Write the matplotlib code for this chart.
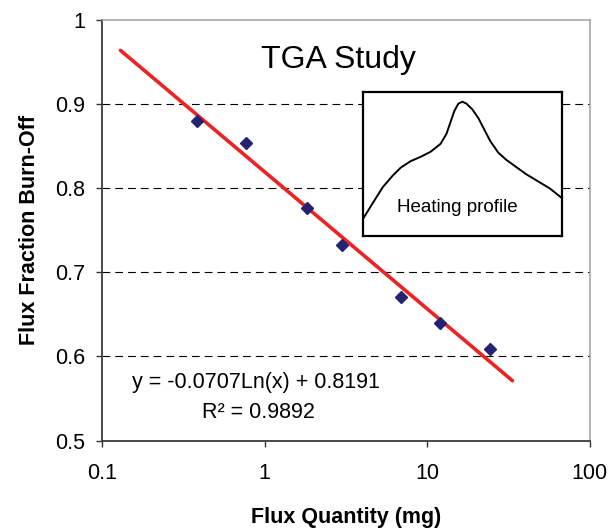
import matplotlib
matplotlib.use('Agg')
import matplotlib.pyplot as plt
import numpy as np

plt.rcParams['font.family'] = ['Liberation Sans', 'DejaVu Sans']

# TGA measurements
flux_mg = [0.384, 0.773, 1.82, 2.99, 6.94, 12.0, 24.2]
burn_off = [0.880, 0.853, 0.776, 0.7325, 0.670, 0.639, 0.609]

# log trendline from the chart: y = a*ln(x) + b
fit_a = -0.0707
fit_b = 0.8191
fit_r2 = 0.9892
fit_x = [0.13, 33.4]

# heating profile sketch (normalised time / signal)
prof_t = [0.0, 0.05, 0.10, 0.15, 0.19, 0.24, 0.29, 0.34, 0.39, 0.42, 0.44, 0.46,
          0.48, 0.50, 0.52, 0.55, 0.58, 0.61, 0.64, 0.68, 0.72, 0.77, 0.82, 0.88, 0.94, 1.0]
prof_y = [0.118, 0.23, 0.34, 0.42, 0.475, 0.52, 0.55, 0.585, 0.64, 0.71, 0.79, 0.87,
          0.92, 0.933, 0.92, 0.88, 0.82, 0.74, 0.66, 0.58, 0.53, 0.48, 0.43, 0.38, 0.33, 0.264]

fig = plt.figure(figsize=(6.1, 5.31), dpi=100)
ax = fig.add_axes([0.1672, 0.1704, 0.7999, 0.7928])

ax.set_xscale('log')
ax.set_xlim(0.1, 100)
ax.set_ylim(0.5, 1.0)
ax.set_xticks([0.1, 1, 10, 100])
ax.set_xticklabels(['0.1', '1', '10', '100'])
ax.minorticks_off()
ax.set_yticks([0.5, 0.6, 0.7, 0.8, 0.9, 1.0])
ax.set_yticklabels(['0.5', '0.6', '0.7', '0.8', '0.9', '1'])

for g in [0.6, 0.7, 0.8, 0.9]:
    ax.axhline(g, color='black', lw=0.8, ls=(0, (7, 4.5)), zorder=1)

fx = np.array(fit_x)
ax.plot(fx, fit_a * np.log(fx) + fit_b, color='#ee2222', lw=2.6,
        solid_capstyle='round', zorder=3)
ax.plot(flux_mg, burn_off, 'D', color='#232372', ms=6.2, zorder=4)

ax.tick_params(axis='both', labelsize=15.5, direction='out', length=4, width=1, color='#333333')
ax.tick_params(axis='y', pad=8)
ax.tick_params(axis='x', pad=12)
for s in ['left', 'bottom']:
    ax.spines[s].set_color('#3a3a3a')
    ax.spines[s].set_linewidth(1.3)
for s in ['top', 'right']:
    ax.spines[s].set_color('#a0a0a0')
    ax.spines[s].set_linewidth(1.1)

ax.set_xlabel('Flux Quantity (mg)', fontsize=15.5, fontweight='bold', labelpad=17)
ax.set_ylabel('Flux Fraction Burn-Off', fontsize=15.5, fontweight='bold', labelpad=11)

ax.text(0.485, 0.905, 'TGA Study', transform=ax.transAxes, fontsize=23,
        ha='center', va='center')
ax.text(0.315, 0.137, 'y = %.4fLn(x) + %.4f' % (fit_a, fit_b), transform=ax.transAxes,
        fontsize=15.5, ha='center', va='center')
ax.text(0.32, 0.066, 'R\u00b2 = %.4f' % fit_r2, transform=ax.transAxes,
        fontsize=15.5, ha='center', va='center')

# inset: heating profile
ins = fig.add_axes([0.595, 0.5556, 0.326, 0.271])
ins.plot(prof_t, prof_y, color='black', lw=1.4)
ins.set_xlim(0, 1)
ins.set_ylim(0, 1)
ins.set_xticks([])
ins.set_yticks([])
for s in ins.spines.values():
    s.set_linewidth(1.6)
ins.text(0.477, 0.2, 'Heating profile', transform=ins.transAxes, fontsize=13.5,
         ha='center', va='center')

fig.savefig('out.png', dpi=100)
